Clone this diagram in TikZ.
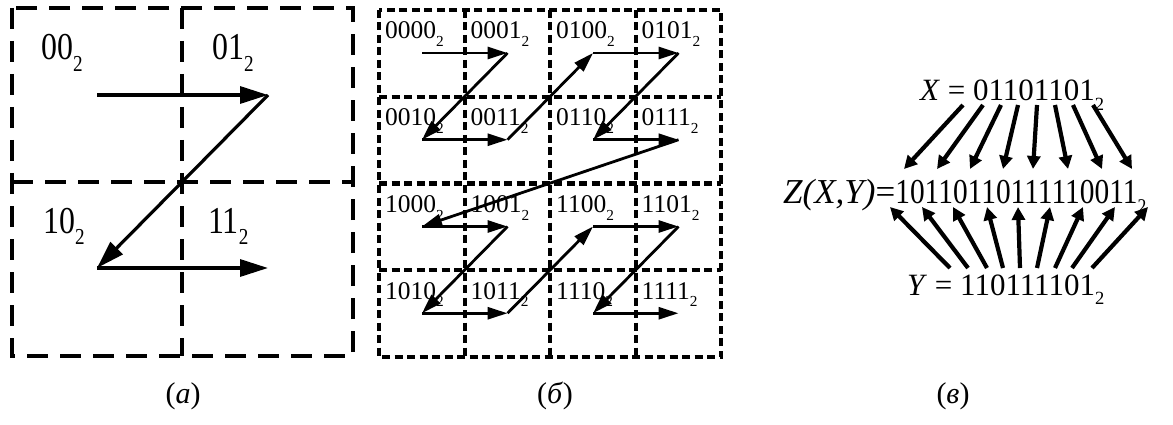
\documentclass[tikz,border=0pt]{standalone}
\usepackage{fontspec}
\usepackage{graphicx}
\setmainfont{Liberation Serif}
\newfontfamily\condrm[FakeStretch=0.84]{Liberation Serif}
\usetikzlibrary{arrows.meta}
\newcommand{\bsub}[1]{\raisebox{-0.3em}{\scalebox{0.6}{#1}}}

\begin{document}
\begin{tikzpicture}[
    x=1pt, y=-1pt,
    bigdash/.style={line width=4.5pt, dash pattern=on 21pt off 12pt},
    smalldash/.style={line width=4pt, dash pattern=on 8pt off 4.5pt},
    biglabel/.style={anchor=base west, inner sep=0pt, font=\condrm\fontsize{38}{40}\selectfont},
    smalllabel/.style={anchor=base west, inner sep=0pt, font=\fontsize{25.5}{27}\selectfont},
    bigarrow/.style={line width=3.2pt, -{Triangle[length=28pt,width=17pt]}},
    smallarrow/.style={line width=2.8pt, -{Triangle[length=20pt,width=12pt]}},
    bitarrow/.style={line width=4.2pt, -{Triangle[length=13pt,width=13pt]}},
    formula/.style={anchor=base west, inner sep=0pt, font=\fontsize{31}{34}\selectfont},
    caption/.style={anchor=base, inner sep=0pt, font=\fontsize{30}{32}\selectfont}
]
    \useasboundingbox (0,0) rectangle (1173,425);

    % (a) 2x2 grid
    \draw[bigdash] (12,8) rectangle (353,356);
    \draw[bigdash] (182,8) -- (182,356);
    \draw[bigdash] (12,182) -- (353,182);

    \node (q00) [biglabel] at (41,60) {00\bsub{2}};
    \node (q01) [biglabel] at (212,60) {01\bsub{2}};
    \node (q10) [biglabel] at (43,233) {10\bsub{2}};
    \node (q11) [biglabel] at (208,233) {11\bsub{2}};

    \coordinate (a00) at (97,95);
    \coordinate (a01) at (268,95);
    \coordinate (a10) at (97,268);
    \coordinate (a11) at (268,268);

    \draw[bigarrow] (a00) -- (a01);
    \draw[bigarrow] (a01) -- (a10);
    \draw[bigarrow] (a10) -- (a11);

    % (b) 4x4 grid
    \draw[smalldash] (379,10) rectangle (721,357);
    \foreach \k in {1,2,3} {
        \draw[smalldash] (379+85.5*\k,10) -- (379+85.5*\k,357);
        \draw[smalldash] (379,10+86.75*\k) -- (721,10+86.75*\k);
    }

    \foreach \lab/\c/\r in {0000/0/0, 0001/1/0, 0100/2/0, 0101/3/0,
                            0010/0/1, 0011/1/1, 0110/2/1, 0111/3/1,
                            1000/0/2, 1001/1/2, 1100/2/2, 1101/3/2,
                            1010/0/3, 1011/1/3, 1110/2/3, 1111/3/3} {
        \node (l\lab) [smalllabel] at (385+85.5*\c,39+86.75*\r) {\lab\bsub{2}};
        \coordinate (z\lab) at (422+85.5*\c,53+86.75*\r);
    }

    \foreach \u/\v in {0000/0001, 0001/0010, 0010/0011, 0011/0100, 0100/0101,
                       0101/0110, 0110/0111, 0111/1000, 1000/1001, 1001/1010,
                       1010/1011, 1011/1100, 1100/1101, 1101/1110, 1110/1111}
        \draw[smallarrow] (z\u) -- (z\v);

    % (c) bit interleaving
    \node (xval) [formula] at (920,101) {\textit{X} = 01101101\bsub{2}};
    \node (zval) [formula, font=\fontsize{35}{38}\selectfont] at (783,203)
        {\textit{Z(X,Y)}={\condrm 10110110111110011\bsub{2}}};
    \node (yval) [formula] at (907,295) {\textit{Y} = 110111101\bsub{2}};

    \foreach \s/\e [count=\i] in {963/904, 983/937, 1001/970, 1018/1003,
                                  1037/1033, 1055/1068, 1073/1102, 1093/1132} {
        \coordinate (xb\i) at (\s,105);
        \coordinate (zx\i) at (\e,169);
        \draw[bitarrow] (xb\i) -- (zx\i);
    }
    \foreach \s/\e [count=\i] in {950/890, 968/922, 987/953, 1003/987, 1020/1018,
                                  1037/1050, 1055/1083, 1072/1115, 1092/1148} {
        \coordinate (yb\i) at (\s,268);
        \coordinate (zy\i) at (\e,207);
        \draw[bitarrow] (yb\i) -- (zy\i);
    }

    % Captions
    \node (capa) [caption] at (183,403) {(\textit{а})};
    \node (capb) [caption] at (555,403) {(\textit{б})};
    \node (capc) [caption] at (953,403) {(\textit{в})};

\end{tikzpicture}
\end{document}
